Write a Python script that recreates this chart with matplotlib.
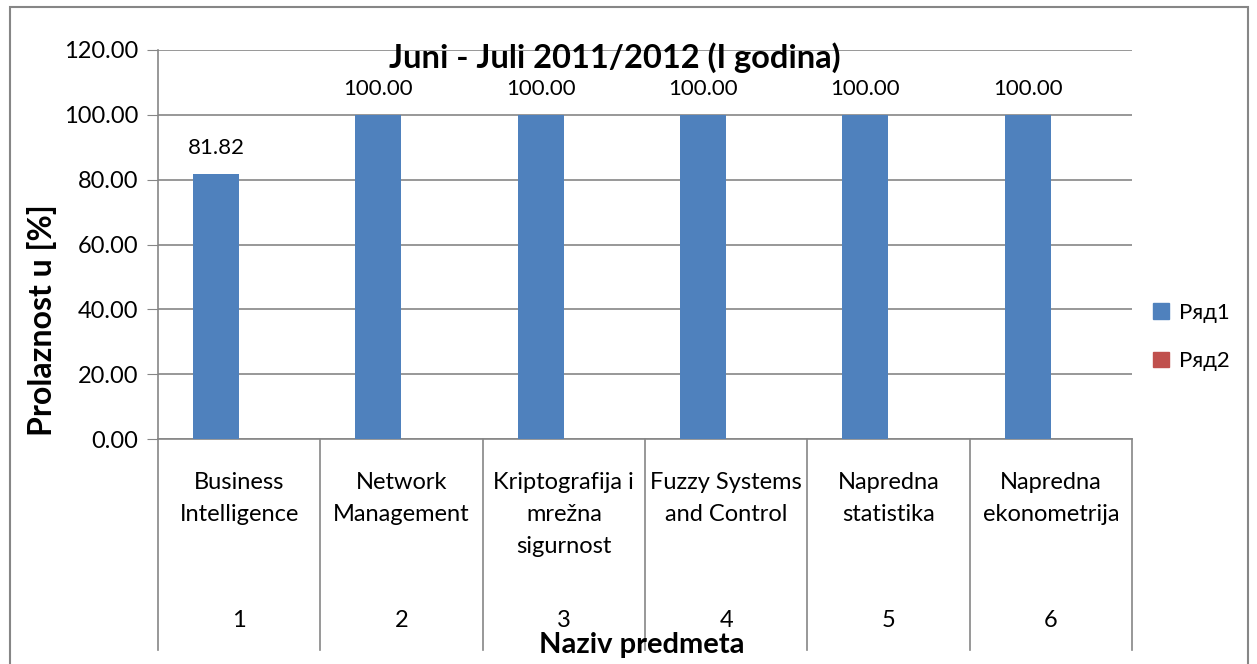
import matplotlib
matplotlib.use("Agg")
import matplotlib.pyplot as plt
import matplotlib.transforms as mtransforms
from matplotlib.patches import Rectangle, Patch

plt.rcParams['font.family'] = ['Lato', 'DejaVu Sans']

# podaci
predmeti = ["Business\nIntelligence", "Network\nManagement", "Kriptografija i\nmrežna\nsigurnost",
            "Fuzzy Systems\nand Control", "Napredna\nstatistika", "Napredna\nekonometrija"]
brojevi = ["1", "2", "3", "4", "5", "6"]
red1 = [81.82, 100.00, 100.00, 100.00, 100.00, 100.00]
red2 = [0, 0, 0, 0, 0, 0]
y_ticks = [0, 20, 40, 60, 80, 100, 120]

W, H = 1257, 664
fig = plt.figure(figsize=(W / 100, H / 100), dpi=100)
ax = fig.add_axes([158 / W, 1 - 439 / H, (1132 - 158) / W, (439 - 50) / H])

grey = "#868686"
x = list(range(1, len(red1) + 1))
bw = 0.284
ax.bar([i - bw / 2 for i in x], red1, width=bw, color="#4F81BD", zorder=3)
ax.bar([i + bw / 2 for i in x], red2, width=bw, color="#C0504D", zorder=3)

for i, v in zip(x, red1):
    ax.annotate("%.2f" % v, (i - bw / 2, v), xytext=(0, 11.5), textcoords="offset points",
                ha="center", va="bottom", fontsize=16)

ax.set_xlim(0.5, len(red1) + 0.5)
ax.set_ylim(0, 120)
ax.set_yticks(y_ticks)
ax.set_yticklabels(["%.2f" % t for t in y_ticks], fontsize=17)
ax.tick_params(axis="y", direction="out", length=8, color=grey, pad=6)
ax.set_xticks([])
ax.grid(axis="y", color=grey, linewidth=1.2, zorder=0)
for s in ["top", "right"]:
    ax.spines[s].set_visible(False)
for s in ["left", "bottom"]:
    ax.spines[s].set_color(grey)
    ax.spines[s].set_linewidth(1.2)

# kategorijska osa u dva nivoa
trans = mtransforms.blended_transform_factory(ax.transData, ax.transAxes)
for k in range(len(red1) + 1):
    ax.plot([k + 0.5, k + 0.5], [0, -0.542], color=grey, lw=1.2, transform=trans, clip_on=False)
for i, naziv, br in zip(x, predmeti, brojevi):
    ax.text(i, -0.084, naziv, transform=trans, ha="center", va="top", fontsize=17, linespacing=1.65)
    ax.text(i, -0.466, br, transform=trans, ha="center", va="center", fontsize=17)

fig.text(615 / W, 1 - 58 / H, "Juni - Juli 2011/2012 (I godina)", ha="center", va="center",
         fontsize=23.5, fontweight="bold")
fig.text(642 / W, 1 - 645 / H, "Naziv predmeta", ha="center", va="center", fontsize=21, fontweight="bold")
fig.text(42 / W, 1 - 320 / H, "Prolaznost u [%]", ha="center", va="center", rotation=90,
         fontsize=23, fontweight="bold")

handles = [Patch(color="#4F81BD", label="Ряд1"), Patch(color="#C0504D", label="Ряд2")]
fig.legend(handles=handles, loc="center left", bbox_to_anchor=(1133 / W, 1 - 337 / H), frameon=False,
           fontsize=16, handlelength=0.7, handleheight=0.7, handletextpad=0.45, labelspacing=1.3)

fig.patches.append(Rectangle((10 / W, -0.01), (1248 - 10) / W, 1 - 7 / H + 0.01, transform=fig.transFigure,
                             fill=False, edgecolor=grey, linewidth=1.5))

fig.savefig("out.png", dpi=100)
